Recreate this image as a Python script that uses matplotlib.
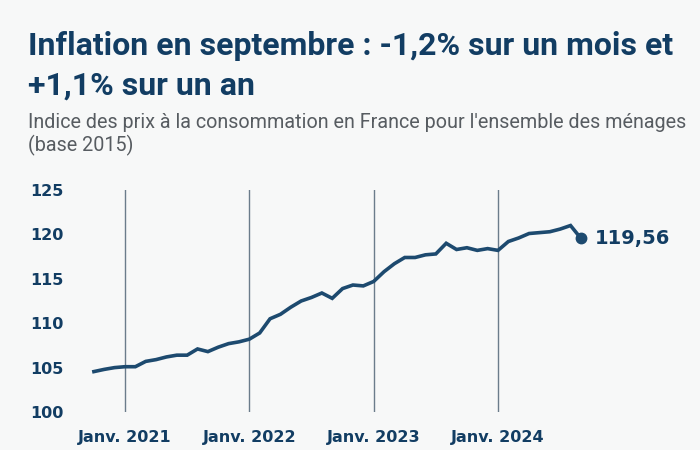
import matplotlib
matplotlib.use("Agg")
import matplotlib.pyplot as plt

# Monthly CPI, Oct 2020 -> Sep 2024
months = ["2020-10", "2020-11", "2020-12",
          "2021-01", "2021-02", "2021-03", "2021-04", "2021-05", "2021-06",
          "2021-07", "2021-08", "2021-09", "2021-10", "2021-11", "2021-12",
          "2022-01", "2022-02", "2022-03", "2022-04", "2022-05", "2022-06",
          "2022-07", "2022-08", "2022-09", "2022-10", "2022-11", "2022-12",
          "2023-01", "2023-02", "2023-03", "2023-04", "2023-05", "2023-06",
          "2023-07", "2023-08", "2023-09", "2023-10", "2023-11", "2023-12",
          "2024-01", "2024-02", "2024-03", "2024-04", "2024-05", "2024-06",
          "2024-07", "2024-08", "2024-09"]
cpi = [104.55, 104.8, 105.0,
       105.1, 105.1, 105.7, 105.9, 106.2, 106.4,
       106.4, 107.1, 106.8, 107.3, 107.7, 107.9,
       108.2, 108.9, 110.5, 111.0, 111.8, 112.5,
       112.9, 113.4, 112.8, 113.9, 114.3, 114.2,
       114.7, 115.8, 116.7, 117.4, 117.4, 117.7,
       117.8, 119.0, 118.3, 118.5, 118.2, 118.4,
       118.2, 119.2, 119.6, 120.1, 120.2, 120.3,
       120.6, 121.0, 119.56]
year_ticks = ["2021-01", "2022-01", "2023-01", "2024-01"]
year_labels = ["Janv. 2021", "Janv. 2022", "Janv. 2023", "Janv. 2024"]
y_ticks = [100, 105, 110, 115, 120, 125]
last_label = "119,56"

title_lines = ["Inflation en septembre : -1,2% sur un mois et", "+1,1% sur un an"]
subtitle_lines = ["Indice des prix à la consommation en France pour l'ensemble des ménages",
                  "(base 2015)"]

BG = "#f7f8f8"
NAVY = "#123d63"
LINE = "#1d4a6f"
GRID = "#6b7c8b"

W, H = 700, 450
fig = plt.figure(figsize=(7, 4.5), dpi=100, facecolor=BG)

# axes in pixel coordinates: x from 80 to 700, y from 190 (125) to 412 (100)
ax_left, ax_right, ax_top, ax_bot = 80, 700, 190, 412
ax = fig.add_axes([ax_left / W, 1 - ax_bot / H, (ax_right - ax_left) / W, (ax_bot - ax_top) / H])
ax.set_facecolor(BG)

x = list(range(len(months)))
ppm = (498 - 125) / 36.0
x0 = months.index("2021-01")
ax.set_xlim(x0 - (125 - ax_left) / ppm, x0 + (ax_right - 125) / ppm)
ax.set_ylim(100, 125)

for m in year_ticks:
    ax.axvline(months.index(m), color=GRID, lw=1.0, zorder=1)

ax.plot(x, cpi, color=LINE, lw=2.6, solid_joinstyle="miter", zorder=3)
ax.plot(x[-1], cpi[-1], "o", color=LINE, ms=7.5, zorder=4)
ax.annotate(last_label, (x[-1], cpi[-1]), xytext=(10, 0), textcoords="offset points",
            ha="left", va="center", fontsize=14, fontweight="bold", color=NAVY,
            family="DejaVu Sans")

ax.set_xticks([months.index(m) for m in year_ticks])
ax.set_xticklabels(year_labels)
ax.set_yticks(y_ticks)
ax.set_yticklabels([str(v) for v in y_ticks])
ax.tick_params(axis="both", length=0, labelcolor=NAVY, labelsize=11.5)
ax.tick_params(axis="y", pad=12)
ax.tick_params(axis="x", pad=13)
for lab in ax.get_xticklabels() + ax.get_yticklabels():
    lab.set_fontweight("bold")
    lab.set_family("DejaVu Sans")
for s in ax.spines.values():
    s.set_visible(False)

for txt, base in zip(title_lines, [55, 95]):
    fig.text(28 / W, 1 - base / H, txt, ha="left", va="baseline", fontsize=23,
             fontweight="bold", color=NAVY, family="Roboto")
for txt, base in zip(subtitle_lines, [128, 151]):
    fig.text(28 / W, 1 - base / H, txt, ha="left", va="baseline", fontsize=14.2,
             fontweight="normal", color="#575c61", family="Roboto")

fig.savefig("out.png", dpi=100, facecolor=BG)
